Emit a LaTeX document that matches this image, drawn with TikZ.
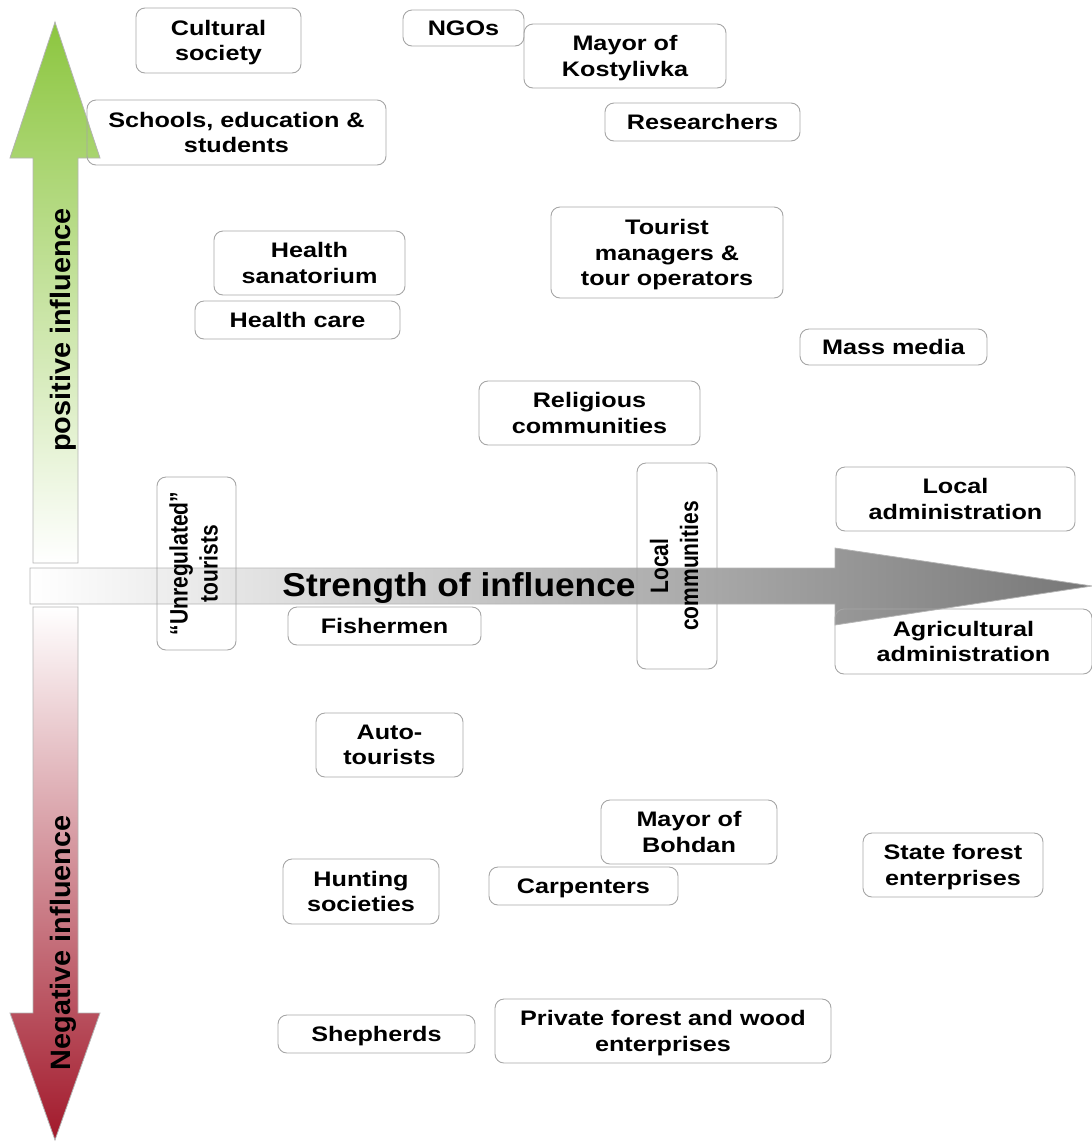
\documentclass[tikz,border=0pt]{standalone}
\usepackage{fontspec}
\setmainfont{Liberation Sans}
\newfontfamily\boxfont[FakeStretch=1.2]{Liberation Sans}
\definecolor{boxline}{HTML}{A6A6A6}
\definecolor{posgreen}{HTML}{8CC63F}
\definecolor{negred}{HTML}{A2192B}
\definecolor{arrowgray}{HTML}{777777}
\definecolor{arrowline}{HTML}{B4B4B4}
\newcommand{\rotlines}[1]{\scalebox{1}[1.2]{\begin{tabular}{@{}c@{}}#1\end{tabular}}}
\begin{document}
\begin{tikzpicture}[x=1pt,y=-1pt,
  stake/.style={draw=boxline, line width=0.9pt, rounded corners=9pt, align=center,
    inner sep=0pt, text depth=0pt, text=black, font=\boxfont\bfseries\fontsize{21}{25.5}\selectfont},
  rotstake/.style={draw=boxline, line width=0.9pt, rounded corners=9pt, rotate=90,
    inner sep=0pt, text=black, font=\bfseries\fontsize{21}{25}\selectfont},
  axislabel/.style={inner sep=0pt, text=black, font=\bfseries\fontsize{28}{28}\selectfont},
  bigarrow/.style={draw=arrowline, line width=0.8pt}
]
\useasboundingbox (0,0) rectangle (1092,1144);

% vertical arrows
\path[bigarrow, top color=posgreen, middle color=posgreen!38!white, bottom color=white]
  (33,563) -- (33,158) -- (10,158) -- (55,22) -- (100,158) -- (78,158) -- (78,563) -- cycle;
\path[bigarrow, top color=white, middle color=negred!30!white, bottom color=negred]
  (33,607) -- (33,1013) -- (10,1013) -- (55,1140) -- (100,1013) -- (78,1013) -- (78,607) -- cycle;
% horizontal arrow
\path[bigarrow, left color=white, right color=arrowgray]
  (30,568) -- (835,568) -- (835,548) -- (1092,586) -- (835,625) -- (835,604) -- (30,604) -- cycle;

\node[axislabel, rotate=90] (pos) at (63,330) {\scalebox{1.03}[1]{positive influence}};
\node[axislabel, rotate=90] (neg) at (63,943) {\scalebox{1.03}[1]{Negative influence}};
\node[axislabel, font=\bfseries\fontsize{33}{33}\selectfont] (str) at (459,588) {\scalebox{1.07}[1]{Strength of influence}};

% stakeholders
\node[stake, minimum width=165pt, minimum height=65pt] (cult) at (218.5,40.5) {Cultural\\society};
\node[stake, minimum width=121pt, minimum height=36pt] (ngo) at (463.5,28) {NGOs};
\node[stake, minimum width=202pt, minimum height=64pt] (kost) at (625,56) {Mayor of\\Kostylivka};
\node[stake, minimum width=299pt, minimum height=65pt] (school) at (236.5,132.5) {Schools, education \&\\students};
\node[stake, minimum width=195pt, minimum height=38pt] (res) at (702.5,122) {Researchers};
\node[stake, minimum width=191pt, minimum height=64pt] (sana) at (309.5,263) {Health\\sanatorium};
\node[stake, minimum width=205pt, minimum height=38pt] (hcare) at (297.5,320) {Health care};
\node[stake, minimum width=232pt, minimum height=91pt] (tour) at (667,252.5) {Tourist\\managers \&\\tour operators};
\node[stake, minimum width=187pt, minimum height=36pt] (media) at (893.5,347) {Mass media};
\node[stake, minimum width=221pt, minimum height=64pt] (relig) at (589.5,413) {Religious\\communities};
\node[stake, minimum width=239pt, minimum height=64pt] (localadm) at (955.5,499) {Local\\administration};
\node[rotstake, minimum width=173pt, minimum height=79pt] (unreg) at (196.5,563.5) {\rotlines{“Unregulated”\\tourists}};
\node[rotstake, minimum width=206pt, minimum height=80pt] (localcom) at (677,566) {\rotlines{Local\\communities}};
\node[stake, minimum width=193pt, minimum height=38pt] (fish) at (384.5,626) {Fishermen};
\node[stake, minimum width=257pt, minimum height=65pt] (agri) at (963.5,641.5) {Agricultural\\administration};
\node[stake, minimum width=147pt, minimum height=64pt] (auto) at (389.5,745) {Auto-\\tourists};
\node[stake, minimum width=176pt, minimum height=64pt] (bohdan) at (689,832) {Mayor of\\Bohdan};
\node[stake, minimum width=156pt, minimum height=65pt] (hunt) at (361,891.5) {Hunting\\societies};
\node[stake, minimum width=189pt, minimum height=38pt] (carp) at (583.5,886) {Carpenters};
\node[stake, minimum width=180pt, minimum height=64pt] (state) at (953,865) {State forest\\enterprises};
\node[stake, minimum width=197pt, minimum height=38pt] (shep) at (376.5,1034) {Shepherds};
\node[stake, minimum width=336pt, minimum height=64pt] (priv) at (663,1031) {Private forest and wood\\enterprises};
\end{tikzpicture}
\end{document}
